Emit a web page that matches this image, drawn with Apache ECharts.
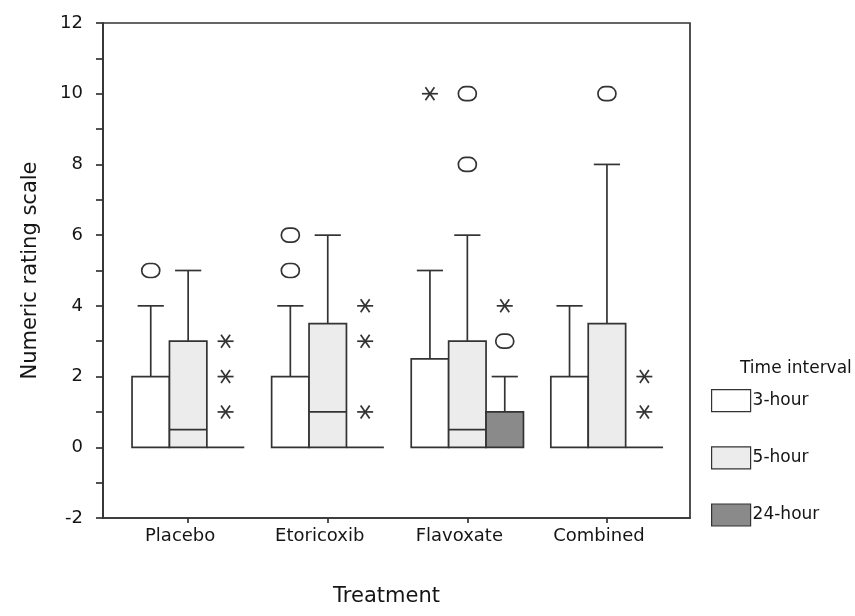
<!DOCTYPE html>
<html>
<head>
<meta charset="utf-8">
<script src="https://cdn.jsdelivr.net/npm/echarts@6/dist/echarts.min.js"></script>
<style>
html,body{margin:0;padding:0;background:#fff;}
#chart{width:855px;height:616px;}
</style>
</head>
<body>
<div id="chart"></div>
<script>
// ---- data ----
const categories = ['Placebo', 'Etoricoxib', 'Flavoxate', 'Combined'];
const intervals = ['3-hour', '5-hour', '24-hour'];
// [min, Q1, median, Q3, max] per category
const box3h  = [[0, 0, 0, 2, 4], [0, 0, 0, 2, 4], [0, 0, 0, 2.5, 5], [0, 0, 0, 2, 4]];
const box5h  = [[0, 0, 0.5, 3, 5], [0, 0, 1, 3.5, 6], [0, 0, 0.5, 3, 6], [0, 0, 0, 3.5, 8]];
const box24h = [[0, 0, 0, 0, 0], [0, 0, 0, 0, 0], [0, 0, 0, 1, 2], [0, 0, 0, 0, 0]];
// outliers (circles): [categoryIndex, intervalIndex, value]
const outliers = [[0, 0, 5], [1, 0, 5], [1, 0, 6], [2, 1, 8], [2, 1, 10], [3, 1, 10], [2, 2, 3]];
// extremes (asterisks): [categoryIndex, intervalIndex, value]
const extremes = [[2, 0, 10], [0, 2, 1], [0, 2, 2], [0, 2, 3], [1, 2, 1], [1, 2, 3], [1, 2, 4], [2, 2, 4], [3, 2, 1], [3, 2, 2]];
const yMin = -2, yMax = 12, yStep = 2;

// ---- styles ----
const FONT = 'DejaVu Sans';
const TXT = '#151515';
const LINE = '#333';
const LW = 1.7;
const fills = ['#ffffff', '#ececec', '#8a8a8a'];
const BOX_W = 0.268;   // box width in category units
const CAP_W = 0.7;     // whisker cap width relative to box width

function boxRender(k) {
  return function (params, api) {
    const cat = api.value(0);
    const mn = api.value(1), q1 = api.value(2), med = api.value(3), q3 = api.value(4), mx = api.value(5);
    const bw = api.size([1, 0])[0] * BOX_W;
    const cx = api.coord([cat, 0])[0] + (k - 1) * bw;
    const x0 = cx - bw / 2;
    const y = v => api.coord([cat, v])[1];
    const st = { stroke: LINE, lineWidth: LW };
    const ch = [];
    if (mx > q3) {
      ch.push({ type: 'line', shape: { x1: cx, y1: y(q3), x2: cx, y2: y(mx) }, style: st });
      ch.push({ type: 'line', shape: { x1: cx - bw * CAP_W / 2, y1: y(mx), x2: cx + bw * CAP_W / 2, y2: y(mx) }, style: st });
    }
    if (mn < q1) {
      ch.push({ type: 'line', shape: { x1: cx, y1: y(q1), x2: cx, y2: y(mn) }, style: st });
      ch.push({ type: 'line', shape: { x1: cx - bw * CAP_W / 2, y1: y(mn), x2: cx + bw * CAP_W / 2, y2: y(mn) }, style: st });
    }
    ch.push({ type: 'rect', shape: { x: x0, y: y(q3), width: bw, height: y(q1) - y(q3) },
      style: { fill: fills[k], stroke: LINE, lineWidth: LW } });
    if (med > q1 && med < q3) {
      ch.push({ type: 'line', shape: { x1: x0, y1: y(med), x2: x0 + bw, y2: y(med) }, style: st });
    }
    return { type: 'group', children: ch };
  };
}

function markRender(kind) {
  return function (params, api) {
    const cat = api.value(0), k = api.value(1), v = api.value(2);
    const bw = api.size([1, 0])[0] * BOX_W;
    const p = api.coord([cat, v]);
    const cx = p[0] + (k - 1) * bw, cy = p[1];
    const st = { stroke: LINE, lineWidth: LW, fill: null };
    if (kind === 'circle') {
      return { type: 'rect', shape: { x: cx - 9, y: cy - 7, width: 18, height: 14, r: 7 }, style: { stroke: LINE, lineWidth: LW, fill: 'none' } };
    }
    return { type: 'group', children: [
      { type: 'line', shape: { x1: cx - 8, y1: cy, x2: cx + 8, y2: cy }, style: st },
      { type: 'line', shape: { x1: cx - 4.5, y1: cy - 6.5, x2: cx + 4.5, y2: cy + 6.5 }, style: st },
      { type: 'line', shape: { x1: cx + 4.5, y1: cy - 6.5, x2: cx - 4.5, y2: cy + 6.5 }, style: st }
    ] };
  };
}

const boxSets = [box3h, box5h, box24h];
const series = boxSets.map((set, k) => ({
  name: intervals[k],
  type: 'custom',
  renderItem: boxRender(k),
  itemStyle: { color: fills[k], borderColor: LINE, borderWidth: 1.2 },
  encode: { x: 0, y: [1, 2, 3, 4, 5] },
  data: set.map((b, i) => [i].concat(b)),
  z: 2
}));
series.push({
  name: 'outliers', type: 'custom', renderItem: markRender('circle'),
  encode: { x: 0, y: 2 }, data: outliers, z: 3
});
series.push({
  name: 'extremes', type: 'custom', renderItem: markRender('star'),
  encode: { x: 0, y: 2 }, data: extremes, z: 3
});

const chart = echarts.init(document.getElementById('chart'));
chart.setOption({
  backgroundColor: '#fff',
  animation: false,
  title: {
    text: 'Time interval', left: 735, top: 355,
    textStyle: { fontFamily: FONT, fontSize: 17, fontWeight: 'normal', color: TXT }
  },
  legend: {
    orient: 'vertical', left: 706, top: 384,
    icon: 'rect', itemWidth: 39, itemHeight: 22, itemGap: 34,
    textStyle: { fontFamily: FONT, fontSize: 17, color: TXT, padding: [0, 0, 0, -3] },
    data: intervals.map((n, k) => ({ name: n, itemStyle: { color: fills[k], borderColor: LINE, borderWidth: 1.2 } }))
  },
  grid: {
    left: 103, right: 165, top: 23, bottom: 98,
    show: true, borderColor: LINE, borderWidth: LW, backgroundColor: 'transparent'
  },
  xAxis: {
    type: 'value', min: -0.61, max: 3.595,
    name: 'Treatment', nameLocation: 'middle', nameGap: 68,
    nameTextStyle: { fontFamily: FONT, fontSize: 21, color: TXT, padding: [0, 20, 0, 0] },
    axisLine: { show: true, onZero: false, lineStyle: { color: LINE, width: LW } },
    axisTick: { show: true, length: 5, customValues: [0, 1, 2, 3], lineStyle: { color: LINE, width: LW } },
    axisLabel: {
      customValues: [0, 1, 2, 3], margin: 9,
      formatter: v => categories[Math.round(v)] || '',
      fontFamily: FONT, fontSize: 18, color: TXT, padding: [0, 16, 0, 0]
    },
    splitLine: { show: false }
  },
  yAxis: {
    type: 'value', min: yMin, max: yMax, interval: yStep,
    name: 'Numeric rating scale', nameLocation: 'middle', nameGap: 62,
    nameTextStyle: { fontFamily: FONT, fontSize: 21, color: TXT },
    axisLine: { show: true, onZero: false, lineStyle: { color: LINE, width: LW } },
    axisTick: { show: true, length: 7, lineStyle: { color: LINE, width: LW } },
    minorTick: { show: true, splitNumber: 2, length: 7, lineStyle: { color: LINE, width: LW } },
    axisLabel: { margin: 20, fontFamily: FONT, fontSize: 18, color: TXT },
    splitLine: { show: false }
  },
  series: series
});
</script>
</body>
</html>
